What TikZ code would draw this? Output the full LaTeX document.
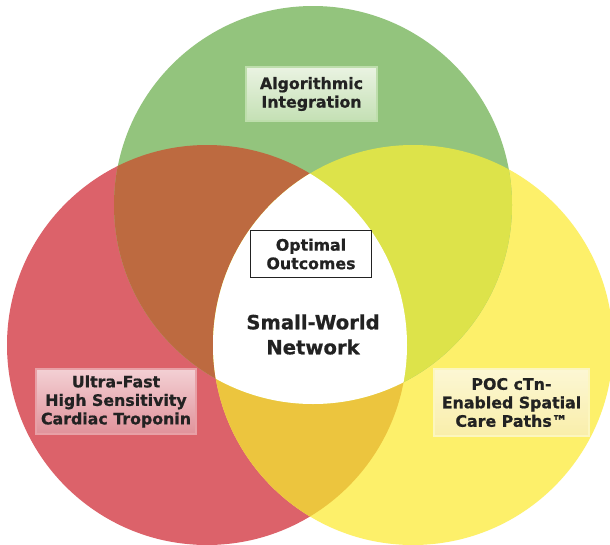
\documentclass[tikz,border=0pt]{standalone}
\usepackage{fontspec}
\setmainfont{DejaVu Sans}[BoldFeatures={FakeBold=0.8}]

\definecolor{grn}{RGB}{147,196,125}
\definecolor{rd}{RGB}{220,98,106}
\definecolor{ylw}{RGB}{253,240,106}
\definecolor{brn}{RGB}{189,106,64}
\definecolor{lim}{RGB}{221,227,74}
\definecolor{org}{RGB}{236,197,62}
\definecolor{txt}{RGB}{34,34,34}

\tikzset{
  lbl/.style={font=\bfseries\fontsize{15.8}{18.5}\selectfont, text=txt, align=center, inner sep=0pt},
  greenbox/.style={lbl, shading=axis, top color={rgb,255:red,234;green,243;blue,226}, bottom color={rgb,255:red,196;green,224;blue,180}, draw={rgb,255:red,190;green,222;blue,172}, line width=2.5pt},
  redbox/.style={lbl, shading=axis, top color={rgb,255:red,243;green,208;blue,212}, bottom color={rgb,255:red,224;green,146;blue,154}, draw={rgb,255:red,232;green,160;blue,166}, line width=2.5pt},
  yellowbox/.style={lbl, shading=axis, top color={rgb,255:red,252;green,247;blue,212}, bottom color={rgb,255:red,249;green,238;blue,170}, draw={rgb,255:red,252;green,246;blue,190}, line width=2.5pt},
}

\begin{document}
\begin{tikzpicture}[x=1pt, y=-1pt]
        \clip (0,0) rectangle (610,544);
        \fill[white] (0,0) rectangle (610,544);

        % the three sets
        \fill[rd] (207,345) circle (200);
        \fill[ylw] (413,345) circle (200);
        \fill[grn] (313,205) circle (199);

        % pairwise overlaps
        \begin{scope}
            \clip (207,345) circle (200);
            \fill[brn] (313,205) circle (199);
            \fill[org] (413,345) circle (200);
        \end{scope}
        \begin{scope}
            \clip (413,345) circle (200);
            \fill[lim] (313,205) circle (199);
        \end{scope}
        \begin{scope}
            \clip (207,345) circle (200);
            \clip (413,345) circle (200);
            \fill[white] (313,205) circle (199);
        \end{scope}

        \draw (311.5,94) node[greenbox, minimum width=131pt, minimum height=54pt] (algo) {Algorithmic\\Integration};
        \draw (116,401.5) node[redbox, minimum width=160pt, minimum height=65pt] (trop) {Ultra-Fast\\High Sensitivity\\Cardiac Troponin};
        \draw (511.5,402.5) node[yellowbox, minimum width=155pt, minimum height=67pt] (poc) {POC cTn-\\Enabled Spatial\\Care Paths™};
        \draw (311,254) node[lbl, draw=txt, line width=1.5pt, fill=white, minimum width=121pt, minimum height=47pt] (opt) {Optimal\\Outcomes};
        \draw (313,334.5) node[lbl, font=\bfseries\fontsize{19.6}{25}\selectfont] (swn) {Small-World\\Network};
    \end{tikzpicture}
\end{document}
